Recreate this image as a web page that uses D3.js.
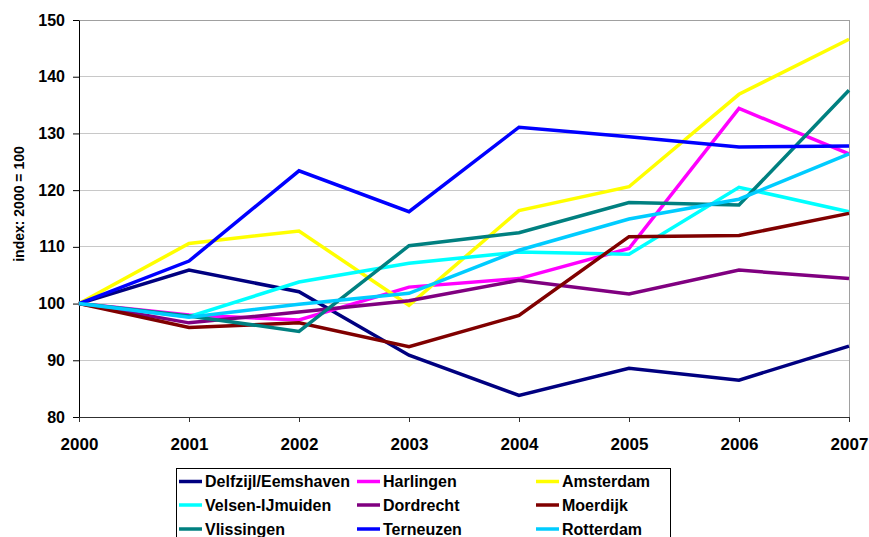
<!DOCTYPE html>
<html><head><meta charset="utf-8">
<script src="https://cdn.jsdelivr.net/npm/d3@7"></script>
<style>
html,body{margin:0;padding:0;background:#fff;}
svg{display:block;font-family:Arial,"Liberation Sans",sans-serif;font-weight:bold;}
</style></head><body>
<svg id="chart" width="869" height="537"></svg>
<script>
const years = [2000, 2001, 2002, 2003, 2004, 2005, 2006, 2007];
const yTicks = [80, 90, 100, 110, 120, 130, 140, 150];
const seriesNames = ["Delfzijl/Eemshaven", "Harlingen", "Amsterdam", "Velsen-IJmuiden", "Dordrecht", "Moerdijk", "Vlissingen", "Terneuzen", "Rotterdam"];
const seriesColors = ["#000080", "#FF00FF", "#FFFF00", "#00FFFF", "#800080", "#800000", "#008080", "#0000FF", "#00CCFF"];
const delfzijl   = [100, 105.9, 102.1, 90.9, 83.8, 88.6, 86.5, 92.5];
const harlingen  = [100, 98.0, 97.1, 102.9, 104.4, 109.7, 134.4, 126.4];
const amsterdam  = [100, 110.6, 112.8, 99.7, 116.4, 120.6, 136.9, 146.6];
const velsen     = [100, 97.7, 103.8, 107.1, 109.1, 108.7, 120.5, 116.2];
const dordrecht  = [100, 96.6, 98.5, 100.5, 104.1, 101.7, 105.9, 104.4];
const moerdijk   = [100, 95.8, 96.6, 92.4, 97.9, 111.8, 112.0, 115.9];
const vlissingen = [100, 97.8, 95.1, 110.2, 112.5, 117.8, 117.4, 137.6];
const terneuzen  = [100, 107.5, 123.4, 116.2, 131.1, 129.4, 127.6, 127.8];
const rotterdam  = [100, 97.6, 99.9, 101.8, 109.4, 114.9, 118.4, 126.4];
const seriesValues = [delfzijl, harlingen, amsterdam, velsen, dordrecht, moerdijk, vlissingen, terneuzen, rotterdam];

const svg = d3.select("#chart");
const L = 79, R = 849, T = 20, B = 417;
const x = d3.scaleLinear().domain([2000, 2007]).range([L, R]);
const y = d3.scaleLinear().domain([80, 150]).range([B, T]);

// gridlines
svg.append("g").selectAll("line").data(yTicks.filter(d => d > 80)).join("line")
  .attr("x1", L).attr("x2", R).attr("y1", d => y(d)).attr("y2", d => y(d))
  .attr("stroke", d => d === 150 ? "#a0a0a0" : "#c8c8c8").attr("stroke-width", 1)
  .attr("shape-rendering", "crispEdges");
// right border
svg.append("line").attr("x1", R).attr("x2", R).attr("y1", T).attr("y2", B)
  .attr("stroke", "#a0a0a0").attr("shape-rendering", "crispEdges");

// axes
const yAxis = d3.axisLeft(y).tickValues(yTicks).tickSize(6).tickPadding(8).tickSizeOuter(0);
const gy = svg.append("g").attr("transform", `translate(${L},0)`).call(yAxis);
gy.select(".domain").attr("stroke", "#000");
gy.selectAll(".tick line").attr("stroke", "#000");
gy.selectAll("text").attr("font-size", "16px").attr("font-weight", "bold").attr("fill", "#000")
  .attr("font-family", "Arial, 'Liberation Sans', sans-serif");

const xAxis = d3.axisBottom(x).tickValues(years).tickFormat(d3.format("d")).tickSize(5).tickPadding(16).tickSizeOuter(0);
const gx = svg.append("g").attr("transform", `translate(0,${B})`).call(xAxis);
gx.select(".domain").attr("stroke", "#303030");
gx.selectAll(".tick line").attr("stroke", "#303030");
gx.selectAll("text").attr("font-size", "17px").attr("font-weight", "bold").attr("fill", "#000")
  .attr("font-family", "Arial, 'Liberation Sans', sans-serif");

// y axis title
svg.append("text").attr("transform", "translate(24,204) rotate(-90)")
  .attr("text-anchor", "middle").attr("font-size", "14px").attr("fill", "#000")
  .text("index: 2000 = 100");

// lines
const line = d3.line().x((d, i) => x(years[i])).y(d => y(d));
svg.append("g").selectAll("path").data(seriesValues).join("path")
  .attr("d", d => line(d)).attr("fill", "none")
  .attr("stroke", (d, i) => seriesColors[i]).attr("stroke-width", 3.5)
  .attr("stroke-linejoin", "miter");

// legend
const lg = svg.append("g");
lg.append("rect").attr("x", 176).attr("y", 468).attr("width", 494).attr("height", 90)
  .attr("fill", "#fff").attr("stroke", "#000").attr("stroke-width", 1).attr("shape-rendering", "crispEdges");
const colX = [179, 357, 536];
const rowY = [481.5, 505, 529];
seriesNames.forEach((name, i) => {
  const cx = colX[i % 3], cy = rowY[Math.floor(i / 3)];
  lg.append("line").attr("x1", cx).attr("x2", cx + 23).attr("y1", cy).attr("y2", cy)
    .attr("stroke", seriesColors[i]).attr("stroke-width", 3.5);
  lg.append("text").attr("x", cx + 26).attr("y", cy).attr("dy", "0.36em")
    .attr("font-size", "16px").attr("fill", "#000").text(name);
});
</script>
</body></html>
